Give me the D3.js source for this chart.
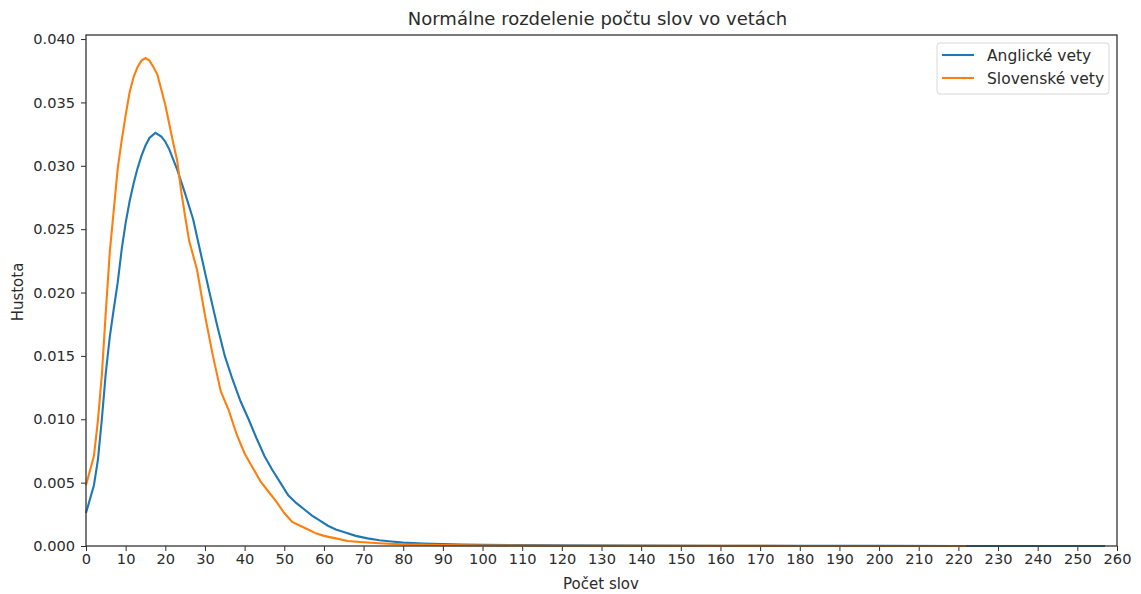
<!DOCTYPE html>
<html>
<head>
<meta charset="utf-8">
<title>Normálne rozdelenie počtu slov vo vetách</title>
<script src="https://cdn.jsdelivr.net/npm/d3@7"></script>
<style>
  body { margin: 0; background: #fff; }
  svg text { font-family: "DejaVu Sans", sans-serif; fill: #2b2b2b; }
  .tick line { stroke: #2b2b2b; }
  .domain { display: none; }
</style>
</head>
<body>
<svg width="1141" height="594"></svg>
<script>
// density values
var enX = [0, 2, 3, 4, 5, 6, 7, 8, 9, 10, 11, 12, 13, 14, 15, 16, 17.5, 19, 20, 21, 23, 25, 27, 29, 31, 33, 35, 37, 39, 41, 43, 45, 47, 49, 51, 53, 55, 57, 59, 61, 63, 65, 68, 71, 74, 77, 80, 85, 90, 95, 100, 110, 120, 140, 160, 180, 200, 220, 240, 257];
var enY = [0.0026, 0.0048, 0.0068, 0.0100, 0.0137, 0.0165, 0.0187, 0.0208, 0.0234, 0.0255, 0.0272, 0.0286, 0.0298, 0.0308, 0.0316, 0.0322, 0.0326, 0.0323, 0.0319, 0.0313, 0.0297, 0.0278, 0.0258, 0.0230, 0.0202, 0.0175, 0.0150, 0.0131, 0.0114, 0.0100, 0.0085, 0.0071, 0.0060, 0.0050, 0.0040, 0.0034, 0.0029, 0.0024, 0.0020, 0.0016, 0.0013, 0.0011, 0.0008, 0.0006, 0.00045, 0.00035, 0.00027, 0.0002, 0.00015, 0.00012, 0.0001, 0.00007, 0.00005, 0.00003, 0.00002, 0.00001, 0.00001, 0.000005, 0.000003, 0.000002];

var skX = [0, 2, 3, 4, 5, 6, 7, 8, 9, 10, 11, 12, 13, 14, 15, 16, 17, 18, 19, 20, 21, 22, 23, 24, 25, 26, 28, 30, 32, 34, 36, 38, 40, 42, 44, 46, 48, 50, 52, 54, 56, 58, 60, 63, 66, 70, 75, 80, 90, 100, 120, 150, 180, 222];
var skY = [0.0048, 0.0071, 0.0099, 0.0135, 0.0185, 0.0232, 0.0265, 0.0298, 0.0320, 0.0340, 0.0358, 0.0370, 0.0378, 0.0383, 0.0385, 0.0383, 0.0378, 0.0372, 0.0360, 0.0348, 0.0333, 0.0318, 0.0304, 0.0280, 0.0260, 0.0241, 0.0218, 0.0182, 0.0150, 0.0122, 0.0107, 0.0088, 0.0073, 0.0062, 0.0051, 0.0043, 0.0035, 0.0026, 0.0019, 0.0016, 0.0013, 0.0010, 0.0008, 0.0006, 0.0004, 0.0003, 0.0002, 0.00013, 0.00007, 0.00004, 0.00002, 0.00001, 0.000005, 0.000002];

var seriesNames = ["Anglické vety", "Slovenské vety"];
var seriesColors = ["#1f77b4", "#ff7f0e"];
var xTicks = d3.range(0, 261, 10);
var yTicks = d3.range(0, 0.0401, 0.005);

var mLeft = 86, mRight = 1117, mTop = 35, mBottom = 546;
var svg = d3.select("svg");

var x = d3.scaleLinear().domain([0, 260]).range([mLeft, mRight]);
var y = d3.scaleLinear().domain([0, 0.04032]).range([mBottom, mTop]);

svg.append("g")
    .attr("transform", "translate(0," + mBottom + ")")
    .call(d3.axisBottom(x).tickValues(xTicks).tickSize(5).tickPadding(3).tickFormat(d3.format("d")))
    .selectAll("text").style("font-size", "14.6px");

svg.append("g")
    .attr("transform", "translate(" + mLeft + ",0)")
    .call(d3.axisLeft(y).tickValues(yTicks).tickSize(5).tickPadding(6).tickFormat(d3.format(".3f")))
    .selectAll("text").style("font-size", "14.6px");

var line = d3.line()
    .x(function(d) { return x(d[0]); })
    .y(function(d) { return y(d[1]); });

var series = [d3.zip(enX, enY), d3.zip(skX, skY)];
series.forEach(function(s, i) {
    svg.append("path")
        .datum(s)
        .attr("d", line)
        .attr("fill", "none")
        .attr("stroke", seriesColors[i])
        .attr("stroke-width", 2.1);
});

// frame
svg.append("rect")
    .attr("x", mLeft).attr("y", mTop)
    .attr("width", mRight - mLeft).attr("height", mBottom - mTop)
    .attr("fill", "none").attr("stroke", "#333").attr("stroke-width", 1.3);

svg.append("text")
    .attr("x", (mLeft + mRight) / 2 - 4).attr("y", 25)
    .attr("text-anchor", "middle").style("font-size", "18px")
    .text("Normálne rozdelenie počtu slov vo vetách");

svg.append("text")
    .attr("x", 601).attr("y", 589)
    .attr("text-anchor", "middle").style("font-size", "15px")
    .text("Počet slov");

svg.append("text")
    .attr("transform", "translate(23,292) rotate(-90)")
    .attr("text-anchor", "middle").style("font-size", "15px")
    .text("Hustota");

// legend
var lg = svg.append("g");
lg.append("rect")
    .attr("x", 937).attr("y", 43).attr("width", 172).attr("height", 51).attr("rx", 3)
    .attr("fill", "#fff").attr("stroke", "#d8d8d8");
seriesNames.forEach(function(n, i) {
    var yy = 55 + i * 23;
    lg.append("line")
        .attr("x1", 942).attr("x2", 974).attr("y1", yy).attr("y2", yy)
        .attr("stroke", seriesColors[i]).attr("stroke-width", 2.1);
    lg.append("text")
        .attr("x", 987).attr("y", yy + 5.5)
        .style("font-size", "15.5px")
        .text(n);
});
</script>
</body>
</html>
